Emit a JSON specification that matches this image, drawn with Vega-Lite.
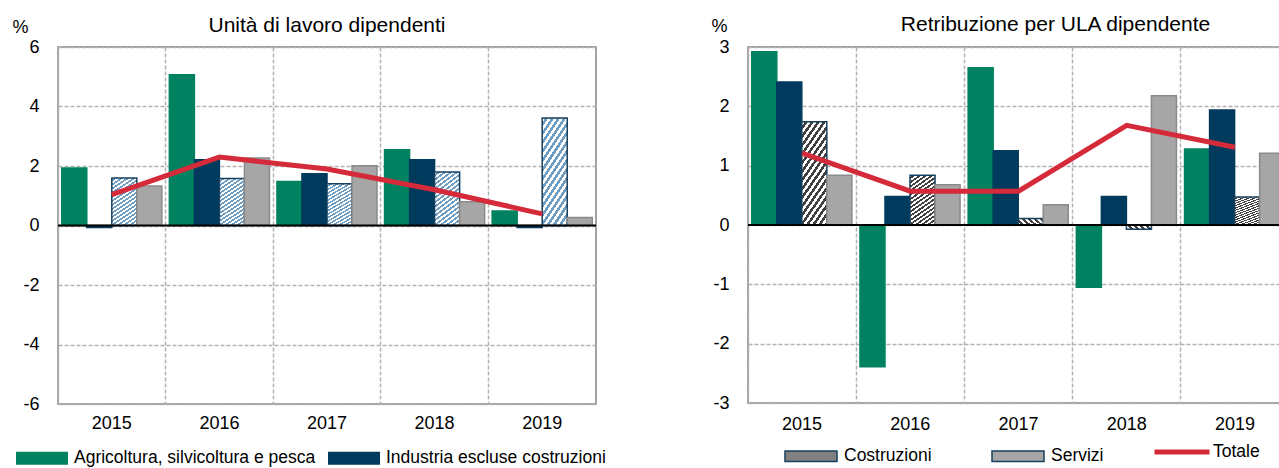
{
  "$schema": "https://vega.github.io/schema/vega-lite/v6.json",
  "padding": {"left": 10, "top": 13, "right": 0, "bottom": 0},
  "bounds": "flush",
  "spacing": 152,
  "resolve": {"scale": {"fill": "independent"}},
  "config": {
    "font": "Liberation Sans, Arial, sans-serif",
    "view": {"stroke": "#a3a3a3", "strokeWidth": 2},
    "axis": {
      "labelFont": "Liberation Sans, Arial, sans-serif",
      "labelFontSize": 18, "labelColor": "#000000",
      "ticks": false, "domain": false, "grid": true,
      "gridColor": "#b3b3b3", "gridDash": [4, 2], "gridWidth": 1.5,
      "titleFont": "Liberation Sans, Arial, sans-serif",
      "titleFontSize": 18, "titleFontWeight": "normal", "titleColor": "#000000"
    },
    "legend": {
      "labelFont": "Liberation Sans, Arial, sans-serif",
      "labelFontSize": 17.5, "labelColor": "#000000", "labelLimit": 400
    },
    "title": {
      "font": "Liberation Sans, Arial, sans-serif",
      "fontSize": 21, "fontWeight": "normal", "color": "#000000"
    }
  },
  "datasets": {
    "unita": [
      {"anno": "2015", "serie": "Agricoltura, silvicoltura e pesca", "valore": 1.93},
      {"anno": "2015", "serie": "Industria escluse costruzioni", "valore": -0.07},
      {"anno": "2015", "serie": "Costruzioni", "valore": 1.6},
      {"anno": "2015", "serie": "Servizi", "valore": 1.33},
      {"anno": "2015", "serie": "Totale", "valore": 1.04},
      {"anno": "2016", "serie": "Agricoltura, silvicoltura e pesca", "valore": 5.07},
      {"anno": "2016", "serie": "Industria escluse costruzioni", "valore": 2.21},
      {"anno": "2016", "serie": "Costruzioni", "valore": 1.58},
      {"anno": "2016", "serie": "Servizi", "valore": 2.27},
      {"anno": "2016", "serie": "Totale", "valore": 2.3},
      {"anno": "2017", "serie": "Agricoltura, silvicoltura e pesca", "valore": 1.48},
      {"anno": "2017", "serie": "Industria escluse costruzioni", "valore": 1.74},
      {"anno": "2017", "serie": "Costruzioni", "valore": 1.4},
      {"anno": "2017", "serie": "Servizi", "valore": 2.01},
      {"anno": "2017", "serie": "Totale", "valore": 1.9},
      {"anno": "2018", "serie": "Agricoltura, silvicoltura e pesca", "valore": 2.55},
      {"anno": "2018", "serie": "Industria escluse costruzioni", "valore": 2.21},
      {"anno": "2018", "serie": "Costruzioni", "valore": 1.8},
      {"anno": "2018", "serie": "Servizi", "valore": 0.8},
      {"anno": "2018", "serie": "Totale", "valore": 1.2},
      {"anno": "2019", "serie": "Agricoltura, silvicoltura e pesca", "valore": 0.49},
      {"anno": "2019", "serie": "Industria escluse costruzioni", "valore": -0.07},
      {"anno": "2019", "serie": "Costruzioni", "valore": 3.61},
      {"anno": "2019", "serie": "Servizi", "valore": 0.27},
      {"anno": "2019", "serie": "Totale", "valore": 0.39}
    ],
    "retrib": [
      {"anno": "2015", "serie": "Agricoltura, silvicoltura e pesca", "valore": 2.92},
      {"anno": "2015", "serie": "Industria escluse costruzioni", "valore": 2.41},
      {"anno": "2015", "serie": "Costruzioni", "valore": 1.74},
      {"anno": "2015", "serie": "Servizi", "valore": 0.84},
      {"anno": "2015", "serie": "Totale", "valore": 1.21},
      {"anno": "2016", "serie": "Agricoltura, silvicoltura e pesca", "valore": -2.39},
      {"anno": "2016", "serie": "Industria escluse costruzioni", "valore": 0.48},
      {"anno": "2016", "serie": "Costruzioni", "valore": 0.84},
      {"anno": "2016", "serie": "Servizi", "valore": 0.68},
      {"anno": "2016", "serie": "Totale", "valore": 0.57},
      {"anno": "2017", "serie": "Agricoltura, silvicoltura e pesca", "valore": 2.65},
      {"anno": "2017", "serie": "Industria escluse costruzioni", "valore": 1.25},
      {"anno": "2017", "serie": "Costruzioni", "valore": 0.11},
      {"anno": "2017", "serie": "Servizi", "valore": 0.34},
      {"anno": "2017", "serie": "Totale", "valore": 0.57},
      {"anno": "2018", "serie": "Agricoltura, silvicoltura e pesca", "valore": -1.05},
      {"anno": "2018", "serie": "Industria escluse costruzioni", "valore": 0.48},
      {"anno": "2018", "serie": "Costruzioni", "valore": -0.07},
      {"anno": "2018", "serie": "Servizi", "valore": 2.18},
      {"anno": "2018", "serie": "Totale", "valore": 1.68},
      {"anno": "2019", "serie": "Agricoltura, silvicoltura e pesca", "valore": 1.28},
      {"anno": "2019", "serie": "Industria escluse costruzioni", "valore": 1.94},
      {"anno": "2019", "serie": "Costruzioni", "valore": 0.47},
      {"anno": "2019", "serie": "Servizi", "valore": 1.21},
      {"anno": "2019", "serie": "Totale", "valore": 1.31}
    ]
  },
  "hconcat": [
    {
      "width": 538,
      "height": 357,
      "title": {"text": "Unità di lavoro dipendenti", "offset": -18},
      "data": {"name": "unita"},
      "layer": [
        {
          "transform": [{"filter": "datum.serie !== 'Totale'"}],
          "mark": {"type": "bar", "strokeWidth": 1.5},
          "encoding": {
            "x": {
              "field": "anno", "type": "nominal",
              "scale": {"paddingInner": 0, "paddingOuter": 0},
              "axis": {"title": null, "labelAngle": 0, "bandPosition": 0, "labelPadding": 10}
            },
            "xOffset": {
              "field": "serie", "type": "nominal",
              "sort": ["Agricoltura, silvicoltura e pesca", "Industria escluse costruzioni", "Costruzioni", "Servizi"],
              "scale": {"paddingInner": 0, "paddingOuter": 0.15}
            },
            "y": {
              "field": "valore", "type": "quantitative",
              "scale": {"domain": [-6, 6], "nice": false},
              "axis": {
                "values": [-6, -4, -2, 0, 2, 4, 6], "labelExpr": "'' + datum.value", "title": "%", "titleAngle": 0,
                "titleX": -38, "titleY": -20, "titleAlign": "center", "titleBaseline": "middle",
                "labelPadding": 19
              }
            },
            "fill": {
              "condition": {
                "test": "datum.serie === 'Costruzioni'",
                "value": {"gradient": "linear", "x1": 0, "y1": 0, "x2": 0.421, "y2": 1.203, "stops": [
                    {"offset": 0, "color": "#ffffff"}, {"offset": 0.03125, "color": "#ffffff"}, {"offset": 0.03125, "color": "#6f9dc2"}, {"offset": 0.0625, "color": "#6f9dc2"},
                    {"offset": 0.0625, "color": "#ffffff"}, {"offset": 0.09375, "color": "#ffffff"}, {"offset": 0.09375, "color": "#6f9dc2"}, {"offset": 0.125, "color": "#6f9dc2"},
                    {"offset": 0.125, "color": "#ffffff"}, {"offset": 0.15625, "color": "#ffffff"}, {"offset": 0.15625, "color": "#6f9dc2"}, {"offset": 0.1875, "color": "#6f9dc2"},
                    {"offset": 0.1875, "color": "#ffffff"}, {"offset": 0.21875, "color": "#ffffff"}, {"offset": 0.21875, "color": "#6f9dc2"}, {"offset": 0.25, "color": "#6f9dc2"},
                    {"offset": 0.25, "color": "#ffffff"}, {"offset": 0.28125, "color": "#ffffff"}, {"offset": 0.28125, "color": "#6f9dc2"}, {"offset": 0.3125, "color": "#6f9dc2"},
                    {"offset": 0.3125, "color": "#ffffff"}, {"offset": 0.34375, "color": "#ffffff"}, {"offset": 0.34375, "color": "#6f9dc2"}, {"offset": 0.375, "color": "#6f9dc2"},
                    {"offset": 0.375, "color": "#ffffff"}, {"offset": 0.40625, "color": "#ffffff"}, {"offset": 0.40625, "color": "#6f9dc2"}, {"offset": 0.4375, "color": "#6f9dc2"},
                    {"offset": 0.4375, "color": "#ffffff"}, {"offset": 0.46875, "color": "#ffffff"}, {"offset": 0.46875, "color": "#6f9dc2"}, {"offset": 0.5, "color": "#6f9dc2"},
                    {"offset": 0.5, "color": "#ffffff"}, {"offset": 0.53125, "color": "#ffffff"}, {"offset": 0.53125, "color": "#6f9dc2"}, {"offset": 0.5625, "color": "#6f9dc2"},
                    {"offset": 0.5625, "color": "#ffffff"}, {"offset": 0.59375, "color": "#ffffff"}, {"offset": 0.59375, "color": "#6f9dc2"}, {"offset": 0.625, "color": "#6f9dc2"},
                    {"offset": 0.625, "color": "#ffffff"}, {"offset": 0.65625, "color": "#ffffff"}, {"offset": 0.65625, "color": "#6f9dc2"}, {"offset": 0.6875, "color": "#6f9dc2"},
                    {"offset": 0.6875, "color": "#ffffff"}, {"offset": 0.71875, "color": "#ffffff"}, {"offset": 0.71875, "color": "#6f9dc2"}, {"offset": 0.75, "color": "#6f9dc2"},
                    {"offset": 0.75, "color": "#ffffff"}, {"offset": 0.78125, "color": "#ffffff"}, {"offset": 0.78125, "color": "#6f9dc2"}, {"offset": 0.8125, "color": "#6f9dc2"},
                    {"offset": 0.8125, "color": "#ffffff"}, {"offset": 0.84375, "color": "#ffffff"}, {"offset": 0.84375, "color": "#6f9dc2"}, {"offset": 0.875, "color": "#6f9dc2"},
                    {"offset": 0.875, "color": "#ffffff"}, {"offset": 0.90625, "color": "#ffffff"}, {"offset": 0.90625, "color": "#6f9dc2"}, {"offset": 0.9375, "color": "#6f9dc2"},
                    {"offset": 0.9375, "color": "#ffffff"}, {"offset": 0.96875, "color": "#ffffff"}, {"offset": 0.96875, "color": "#6f9dc2"}, {"offset": 1, "color": "#6f9dc2"}
                  ]}
              },
              "field": "serie", "type": "nominal",
              "scale": {
                "domain": ["Agricoltura, silvicoltura e pesca", "Industria escluse costruzioni", "Costruzioni", "Servizi"],
                "range": ["#008260", "#003a5d", "#b7cde0", "#a6a6a6"]
              },
              "legend": {
                "values": ["Agricoltura, silvicoltura e pesca", "Industria escluse costruzioni"],
                "orient": "none", "legendX": -42, "legendY": 385, "direction": "horizontal",
                "title": null, "symbolType": "M-1,-0.25H1V0.25H-1Z", "symbolSize": 2704,
                "labelOffset": 6, "columnPadding": 12, "symbolStrokeWidth": 0
              }
            },
            "stroke": {
              "field": "serie", "type": "nominal",
              "scale": {
                "domain": ["Agricoltura, silvicoltura e pesca", "Industria escluse costruzioni", "Costruzioni", "Servizi"],
                "range": ["#008260", "#003a5d", "#17405e", "#8a8a8a"]
              },
              "legend": null
            }
          }
        },
        {
          "data": {"values": [{}]},
          "mark": {"type": "rule", "color": "#000000", "strokeWidth": 2},
          "encoding": {"y": {"datum": 0}}
        },
        {
          "transform": [{"filter": "datum.serie === 'Totale'"}],
          "mark": {"type": "line", "strokeWidth": 5},
          "encoding": {
            "x": {"field": "anno", "type": "nominal"},
            "y": {"field": "valore", "type": "quantitative"},
            "stroke": {
              "field": "serie", "type": "nominal",
              "scale": {"domain": ["Totale"], "range": ["#d52a3a"]},
              "legend": null
            }
          }
        }
      ],
      "resolve": {"scale": {"stroke": "independent"}}
    },
    {
      "width": 541,
      "height": 356,
      "title": {"text": "Retribuzione per ULA dipendente", "offset": -18, "dx": 37},
      "data": {"name": "retrib"},
      "layer": [
        {
          "transform": [{"filter": "datum.serie !== 'Totale'"}],
          "mark": {"type": "bar", "strokeWidth": 1.5},
          "encoding": {
            "x": {
              "field": "anno", "type": "nominal",
              "scale": {"paddingInner": 0, "paddingOuter": 0},
              "axis": {"title": null, "labelAngle": 0, "bandPosition": 0, "labelPadding": 12}
            },
            "xOffset": {
              "field": "serie", "type": "nominal",
              "sort": ["Agricoltura, silvicoltura e pesca", "Industria escluse costruzioni", "Costruzioni", "Servizi"],
              "scale": {"paddingInner": 0, "paddingOuter": 0.14}
            },
            "y": {
              "field": "valore", "type": "quantitative",
              "scale": {"domain": [-3, 3], "nice": false},
              "axis": {
                "values": [-3, -2, -1, 0, 1, 2, 3], "labelExpr": "'' + datum.value", "title": "%", "titleAngle": 0,
                "titleX": -29, "titleY": -21, "titleAlign": "center", "titleBaseline": "middle",
                "labelPadding": 19
              }
            },
            "fill": {
              "condition": {
                "test": "datum.serie === 'Costruzioni'",
                "value": {"gradient": "linear", "x1": 0, "y1": 0, "x2": 0.421, "y2": 1.203, "stops": [
                    {"offset": 0, "color": "#ffffff"}, {"offset": 0.03125, "color": "#ffffff"}, {"offset": 0.03125, "color": "#404040"}, {"offset": 0.0625, "color": "#404040"},
                    {"offset": 0.0625, "color": "#ffffff"}, {"offset": 0.09375, "color": "#ffffff"}, {"offset": 0.09375, "color": "#404040"}, {"offset": 0.125, "color": "#404040"},
                    {"offset": 0.125, "color": "#ffffff"}, {"offset": 0.15625, "color": "#ffffff"}, {"offset": 0.15625, "color": "#404040"}, {"offset": 0.1875, "color": "#404040"},
                    {"offset": 0.1875, "color": "#ffffff"}, {"offset": 0.21875, "color": "#ffffff"}, {"offset": 0.21875, "color": "#404040"}, {"offset": 0.25, "color": "#404040"},
                    {"offset": 0.25, "color": "#ffffff"}, {"offset": 0.28125, "color": "#ffffff"}, {"offset": 0.28125, "color": "#404040"}, {"offset": 0.3125, "color": "#404040"},
                    {"offset": 0.3125, "color": "#ffffff"}, {"offset": 0.34375, "color": "#ffffff"}, {"offset": 0.34375, "color": "#404040"}, {"offset": 0.375, "color": "#404040"},
                    {"offset": 0.375, "color": "#ffffff"}, {"offset": 0.40625, "color": "#ffffff"}, {"offset": 0.40625, "color": "#404040"}, {"offset": 0.4375, "color": "#404040"},
                    {"offset": 0.4375, "color": "#ffffff"}, {"offset": 0.46875, "color": "#ffffff"}, {"offset": 0.46875, "color": "#404040"}, {"offset": 0.5, "color": "#404040"},
                    {"offset": 0.5, "color": "#ffffff"}, {"offset": 0.53125, "color": "#ffffff"}, {"offset": 0.53125, "color": "#404040"}, {"offset": 0.5625, "color": "#404040"},
                    {"offset": 0.5625, "color": "#ffffff"}, {"offset": 0.59375, "color": "#ffffff"}, {"offset": 0.59375, "color": "#404040"}, {"offset": 0.625, "color": "#404040"},
                    {"offset": 0.625, "color": "#ffffff"}, {"offset": 0.65625, "color": "#ffffff"}, {"offset": 0.65625, "color": "#404040"}, {"offset": 0.6875, "color": "#404040"},
                    {"offset": 0.6875, "color": "#ffffff"}, {"offset": 0.71875, "color": "#ffffff"}, {"offset": 0.71875, "color": "#404040"}, {"offset": 0.75, "color": "#404040"},
                    {"offset": 0.75, "color": "#ffffff"}, {"offset": 0.78125, "color": "#ffffff"}, {"offset": 0.78125, "color": "#404040"}, {"offset": 0.8125, "color": "#404040"},
                    {"offset": 0.8125, "color": "#ffffff"}, {"offset": 0.84375, "color": "#ffffff"}, {"offset": 0.84375, "color": "#404040"}, {"offset": 0.875, "color": "#404040"},
                    {"offset": 0.875, "color": "#ffffff"}, {"offset": 0.90625, "color": "#ffffff"}, {"offset": 0.90625, "color": "#404040"}, {"offset": 0.9375, "color": "#404040"},
                    {"offset": 0.9375, "color": "#ffffff"}, {"offset": 0.96875, "color": "#ffffff"}, {"offset": 0.96875, "color": "#404040"}, {"offset": 1, "color": "#404040"}
                  ]}
              },
              "field": "serie", "type": "nominal",
              "scale": {
                "domain": ["Agricoltura, silvicoltura e pesca", "Industria escluse costruzioni", "Costruzioni", "Servizi"],
                "range": ["#008260", "#003a5d", "#808080", "#a6a6a6"]
              },
              "legend": {
                "values": ["Costruzioni", "Servizi"],
                "orient": "none", "legendX": 36, "legendY": 382, "direction": "horizontal",
                "title": null, "symbolType": "M-1,-0.2H1V0.2H-1Z", "symbolSize": 2704,
                "labelOffset": 6, "columnPadding": 57,
                "symbolStrokeColor": "#17405e", "symbolStrokeWidth": 1.5
              }
            },
            "stroke": {
              "field": "serie", "type": "nominal",
              "scale": {
                "domain": ["Agricoltura, silvicoltura e pesca", "Industria escluse costruzioni", "Costruzioni", "Servizi"],
                "range": ["#008260", "#003a5d", "#17405e", "#8a8a8a"]
              },
              "legend": null
            }
          }
        },
        {
          "data": {"values": [{}]},
          "mark": {"type": "rule", "color": "#000000", "strokeWidth": 2},
          "encoding": {"y": {"datum": 0}}
        },
        {
          "transform": [{"filter": "datum.serie === 'Totale'"}],
          "mark": {"type": "line", "strokeWidth": 5},
          "encoding": {
            "x": {"field": "anno", "type": "nominal"},
            "y": {"field": "valore", "type": "quantitative"},
            "stroke": {
              "field": "serie", "type": "nominal",
              "scale": {"domain": ["Totale"], "range": ["#d52a3a"]},
              "legend": {
                "orient": "none", "legendX": 404, "legendY": 375, "direction": "horizontal",
                "title": null, "symbolType": "stroke", "symbolSize": 3025, "symbolStrokeWidth": 5,
                "labelOffset": 1
              }
            }
          }
        }
      ],
      "resolve": {"scale": {"stroke": "independent"}}
    }
  ]
}
